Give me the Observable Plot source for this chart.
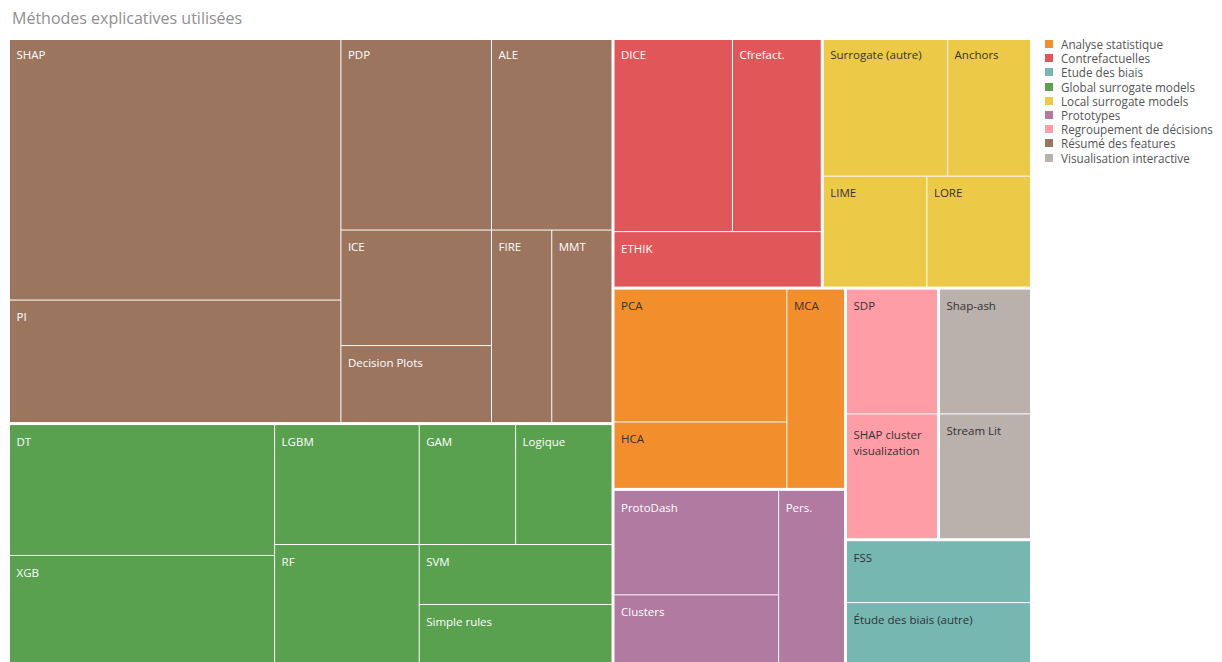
<!DOCTYPE html>
<html><head><meta charset="utf-8">
<script src="https://cdn.jsdelivr.net/npm/d3@7"></script>
<script src="https://cdn.jsdelivr.net/npm/@observablehq/plot@0.6"></script>
<style>
body{margin:0;background:#fff;font-family:"Open Sans",Lato,sans-serif;}
#wrap{position:relative;width:1222px;height:662px;overflow:hidden;}
#title{position:absolute;left:12px;top:7px;font-size:16px;color:#8f8f8f;}
#chart{position:absolute;left:0;top:40px;}
#legend{position:absolute;left:1045px;top:37px;font-size:11.7px;color:#555;}
.item{display:flex;align-items:center;height:14.2px;white-space:nowrap;}
.sw{width:8px;height:8px;margin-right:8px;flex:none;}
</style></head><body>
<div id="wrap"><div id="title">Méthodes explicatives utilisées</div><div id="chart"></div><div id="legend"></div></div>
<script>
const categories = ["Analyse statistique","Contrefactuelles","Etude des biais","Global surrogate models","Local surrogate models","Prototypes","Regroupement de décisions","Résumé des features","Visualisation interactive"];
const colors = ["#F28E2B","#E15759","#76B7B2","#59A14F","#EDC948","#B07AA1","#FF9DA7","#9C755F","#BAB0AC"];
const darkText = ["Analyse statistique","Etude des biais","Local surrogate models","Regroupement de décisions","Visualisation interactive"];

const methods = ["SHAP","PI","PDP","ALE","ICE","Decision Plots","FIRE","MMT",
  "DT","XGB","LGBM","RF","GAM","Logique","SVM","Simple rules",
  "DICE","Cfrefact.","ETHIK",
  "Surrogate (autre)","Anchors","LIME","LORE",
  "PCA","HCA","MCA",
  "ProtoDash","Clusters","Pers.",
  "SDP","SHAP cluster visualization",
  "Shap-ash","Stream Lit",
  "FSS","Étude des biais (autre)"];
const methodCategory = ["Résumé des features","Résumé des features","Résumé des features","Résumé des features","Résumé des features","Résumé des features","Résumé des features","Résumé des features",
  "Global surrogate models","Global surrogate models","Global surrogate models","Global surrogate models","Global surrogate models","Global surrogate models","Global surrogate models","Global surrogate models",
  "Contrefactuelles","Contrefactuelles","Contrefactuelles",
  "Local surrogate models","Local surrogate models","Local surrogate models","Local surrogate models",
  "Analyse statistique","Analyse statistique","Analyse statistique",
  "Prototypes","Prototypes","Prototypes",
  "Regroupement de décisions","Regroupement de décisions",
  "Visualisation interactive","Visualisation interactive",
  "Etude des biais","Etude des biais"];
const counts = [15,7,5,4,3,2,2,2,
  6,5,3,3,2,2,2,2,
  4,3,2,
  3,2,2,2,
  4,2,2,
  3,2,2,
  2,2,
  2,2,
  2,2];

const W = 1020, H = 626;
const rows = methods.map((m,i)=>({name:m, group:methodCategory[i], value:counts[i]}));
const grouped = d3.group(rows, d=>d.group);
const rootData = {children: Array.from(grouped, ([k,v])=>({name:k, children:v}))};
const root = d3.hierarchy(rootData).sum(d=>d.children ? 0 : d.value).sort((a,b)=>b.value-a.value);
d3.treemap().tile(d3.treemapSquarify.ratio(1.75)).size([W,H])
  .paddingInner(n => n.depth===0 ? 3 : 1)(root);
const leaves = root.leaves().map(l=>({name:l.data.name, group:l.data.group, x0:l.x0, x1:l.x1, y0:l.y0, y1:l.y1}));
const isDark = d => darkText.includes(d.group);
const wrapIt = d => (d.x1-d.x0) < 100 && d.name.length > 12;
const font = "'Open Sans', Lato, sans-serif";

const plot = Plot.plot({
  width: 1030, height: 622,
  marginLeft: 12, marginRight: 2, marginTop: 0, marginBottom: 0,
  style: {background:"white", fontFamily:font},
  x: {domain:[2, W-2], range:[12, 1028], axis:null},
  y: {domain:[2, H-2], range:[0, 622], axis:null},
  color: {domain: categories, range: colors},
  marks: [
    Plot.rect(leaves, {x1:"x0", x2:"x1", y1:"y0", y2:"y1", fill:"group"}),
    Plot.text(leaves.filter(d=>!isDark(d) && !wrapIt(d)), {x:"x0", y:"y0", text:"name", dx:6, dy:12, textAnchor:"start", lineAnchor:"top", fontSize:11.5, fill:"white"}),
    Plot.text(leaves.filter(d=>isDark(d) && !wrapIt(d)), {x:"x0", y:"y0", text:"name", dx:6, dy:12, textAnchor:"start", lineAnchor:"top", fontSize:11.5, fill:"#333"}),
    Plot.text(leaves.filter(d=>wrapIt(d)), {x:"x0", y:"y0", text:"name", dx:6, dy:12, textAnchor:"start", lineAnchor:"top", fontSize:11.5, fill:"#333", lineWidth:7, lineHeight:1.45})
  ]
});
document.getElementById("chart").appendChild(plot);

const leg = document.getElementById("legend");
categories.forEach((c,i)=>{
  const it = document.createElement("div"); it.className="item";
  const sw = document.createElement("div"); sw.className="sw"; sw.style.background = colors[i];
  const t = document.createElement("span"); t.textContent = c;
  it.appendChild(sw); it.appendChild(t); leg.appendChild(it);
});
</script>
</body></html>
